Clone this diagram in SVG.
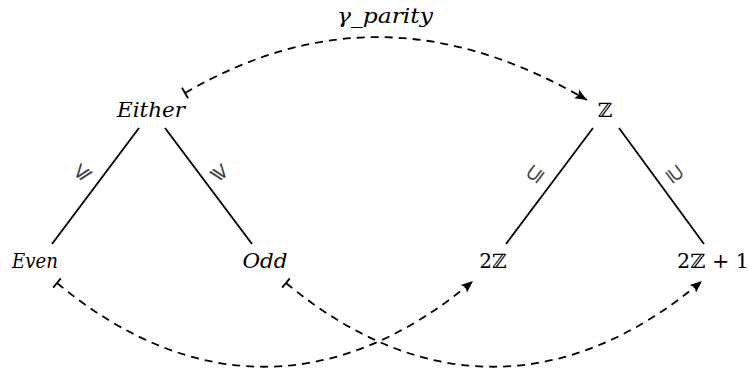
<svg xmlns="http://www.w3.org/2000/svg" width="749" height="368" viewBox="0 0 749 368">
<style>
.lbl{font-family:"DejaVu Serif","Liberation Serif",serif;font-style:italic;font-size:20px;fill:#000}
.bb{font-family:"DejaVu Serif","Liberation Serif",serif;font-size:20px;fill:#000}
.rel{font-family:"DejaVu Sans","Noto Sans",sans-serif;font-size:22px;fill:#444}
.edge{stroke:#000;stroke-width:1.8;fill:none}
.map{stroke:#000;stroke-width:1.8;fill:none;stroke-dasharray:8 6;marker-start:url(#bar);marker-end:url(#arr)}
</style>
<defs>
<marker id="arr" markerUnits="userSpaceOnUse" viewBox="0 0 12 10" refX="11" refY="5" markerWidth="13" markerHeight="11" orient="auto">
<path d="M0,0.5 L11,5 L0,9.5 L2,5 Z" fill="#000" stroke="none"/>
</marker>
<marker id="bar" markerUnits="userSpaceOnUse" viewBox="-2 -7 4 14" refX="0" refY="0" markerWidth="4" markerHeight="14" orient="auto">
<line x1="0" y1="-6" x2="0" y2="6" stroke="#000" stroke-width="1.8" stroke-dasharray="none"/>
</marker>
</defs>
<g id="connectors">
<line class="edge" x1="139" y1="128" x2="52" y2="244"/>
<line class="edge" x1="165" y1="128" x2="252" y2="244"/>
<line class="edge" x1="593" y1="128" x2="506" y2="244"/>
<line class="edge" x1="619" y1="128" x2="704" y2="244"/>
<text class="rel" transform="translate(81,172) rotate(-53)" text-anchor="middle" dy="7">⩽</text>
<text class="rel" transform="translate(221,172) rotate(53)" text-anchor="middle" dy="7">⩾</text>
<text class="rel" transform="translate(535,174) rotate(-53)" text-anchor="middle" dy="7">⊆</text>
<text class="rel" transform="translate(675,174) rotate(53)" text-anchor="middle" dy="7">⊇</text>
<path class="map" d="M185,93 C321,14 451,21 587,100"/>
<text class="lbl" x="385" y="23" text-anchor="middle" textLength="96" lengthAdjust="spacingAndGlyphs">γ_parity</text>
<path class="map" d="M57,283 C192,395 338,395 473,281"/>
<path class="map" d="M286,283 C421,395 567,395 702,281"/>
</g>
<g id="either"><text class="lbl" x="151" y="117" text-anchor="middle" textLength="68" lengthAdjust="spacingAndGlyphs">Either</text></g>
<g id="Z"><text class="bb" x="605" y="117" text-anchor="middle">ℤ</text></g>
<g id="even"><text class="lbl" x="35" y="268" text-anchor="middle" textLength="46" lengthAdjust="spacingAndGlyphs">Even</text></g>
<g id="odd"><text class="lbl" x="265" y="268" text-anchor="middle" textLength="45" lengthAdjust="spacingAndGlyphs">Odd</text></g>
<g id="twoZ"><text class="bb" x="493" y="268" text-anchor="middle">2ℤ</text></g>
<g id="twoZ1"><text class="bb" x="677" y="268" textLength="72" lengthAdjust="spacingAndGlyphs">2ℤ + 1</text></g>
</svg>
